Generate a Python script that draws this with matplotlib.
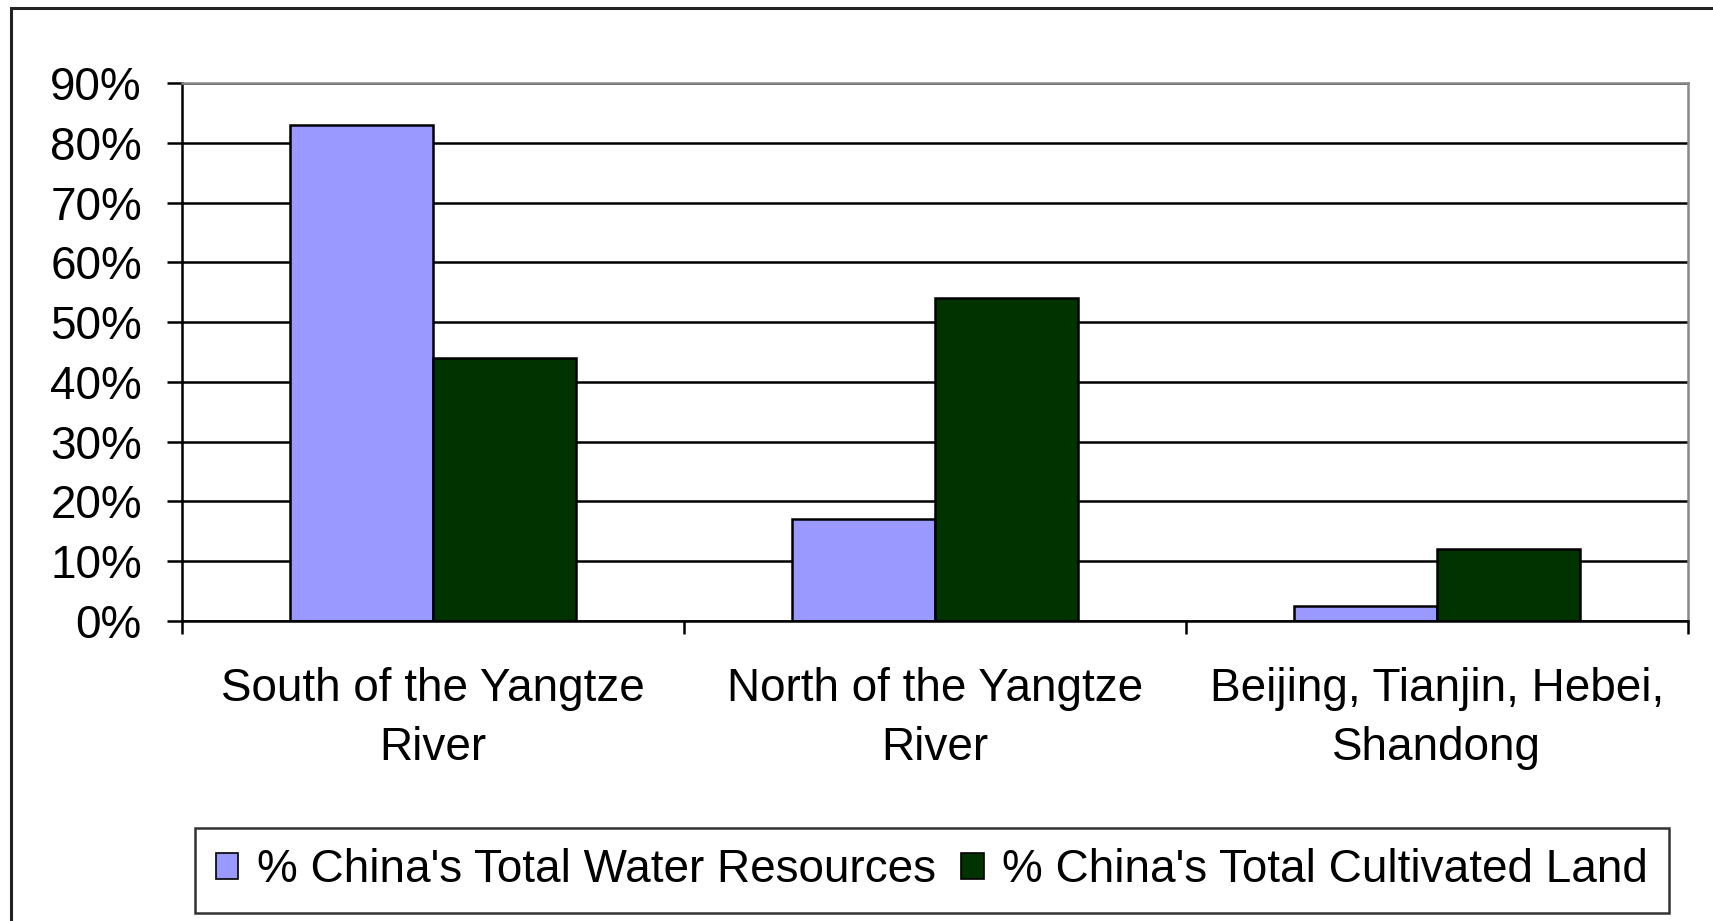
import matplotlib
matplotlib.use('Agg')
import matplotlib.pyplot as plt
from matplotlib.patches import Rectangle
from matplotlib.ticker import FixedLocator, PercentFormatter

regions = ['South of the Yangtze\nRiver', 'North of the Yangtze\nRiver', 'Beijing, Tianjin, Hebei,\nShandong']
water = [83, 17, 2.5]
land = [44, 54, 12]
series_names = ["% China's Total Water Resources", "% China's Total Cultivated Land"]

plt.rcParams['font.family'] = ['Liberation Sans', 'DejaVu Sans']
plt.rcParams['font.size'] = 33

fig = plt.figure(figsize=(17.13, 9.21), dpi=100)
ax = fig.add_axes([0.1062, 0.3257, 0.8792, 0.5842])

# outer chart border (runs off the right and bottom of the picture)
fig.patches.append(Rectangle((11 / 1713, -0.2), 1.2, (921 - 8) / 921 + 0.2,
                             transform=fig.transFigure, fill=False,
                             edgecolor='#222222', linewidth=2.2, zorder=0))

w = 0.2857
x = range(len(regions))
ax.bar([i - w / 2 for i in x], water, width=w, color='#9999FF', edgecolor='black',
       linewidth=1.8, label=series_names[0], zorder=3)
ax.bar([i + w / 2 for i in x], land, width=w, color='#003300', edgecolor='black',
       linewidth=1.8, label=series_names[1], zorder=3)

ax.set_xlim(-0.5, 2.5)
ax.set_ylim(0, 90)
ax.set_yticks(range(0, 91, 10))
ax.yaxis.set_major_formatter(PercentFormatter(decimals=0))
ax.set_xticks(list(x))
ax.set_xticklabels(regions, linespacing=1.45)
ax.xaxis.set_minor_locator(FixedLocator([-0.5, 0.5, 1.5, 2.5]))
ax.tick_params(axis='x', which='major', length=0, pad=33)
ax.tick_params(axis='x', which='minor', length=9.5, width=1.8, direction='out')
ax.tick_params(axis='y', length=10.8, width=1.8, pad=18, direction='out')

ax.yaxis.grid(True, color='black', linewidth=1.8, zorder=1)
ax.set_axisbelow(True)
for side in ['left', 'bottom']:
    ax.spines[side].set_color('black')
    ax.spines[side].set_linewidth(1.8)
    ax.spines[side].set_zorder(4)
for side in ['top', 'right']:
    ax.spines[side].set_color('#888888')
    ax.spines[side].set_linewidth(1.8)
    ax.spines[side].set_zorder(4)

leg = fig.legend(loc='center', bbox_to_anchor=(0.544, 0.055), ncol=2,
                 fancybox=False, frameon=True, handlelength=0.5, handleheight=0.5,
                 handletextpad=0.4, columnspacing=0.55, borderpad=0.45,
                 borderaxespad=0)
leg.get_frame().set_edgecolor('black')
leg.get_frame().set_linewidth(1.8)
for h in leg.legend_handles:
    h.set_edgecolor('black')
    h.set_linewidth(1.2)

fig.savefig('out.png', dpi=100, facecolor='white')
